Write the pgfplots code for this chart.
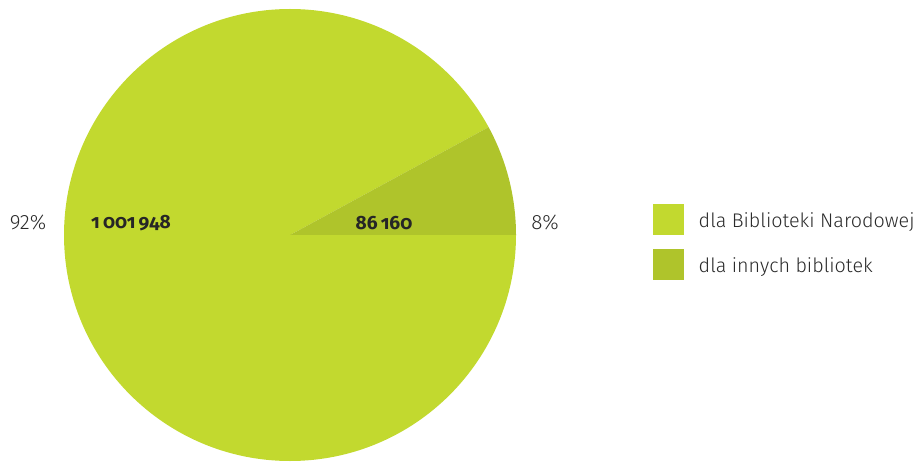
\documentclass[border=0pt]{standalone}
\usepackage{pgfplots}
\pgfplotsset{compat=1.18}
\usepackage{pgfplotstable}
\usepackage{fontspec}
\setmainfont{Fira Sans Light}
\newfontfamily\oldnum{Fira Sans}[Numbers=OldStyle]
\definecolor{bn}{HTML}{C2D92F}
\definecolor{inne}{HTML}{AFC42B}
\definecolor{txt}{HTML}{2A2A2A}

\pgfplotstableread{
label value
BN 1001948
inne 86160
}\piedata

\begin{document}%
\pgfplotstablegetelem{0}{value}\of\piedata \let\va\pgfplotsretval%
\pgfplotstablegetelem{1}{value}\of\piedata \let\vb\pgfplotsretval%
% l3fp, since the values are too large for pgfmath
\edef\angb{\fpeval{round(360*\vb/(\va+\vb),3)}}%
\edef\angbn{\fpeval{\angb-360}}%
\begin{tikzpicture}[font=\fontsize{14.4}{17}\selectfont]
  \useasboundingbox (0,0) rectangle (690pt,345.75pt);
  \begin{axis}[
    at={(217.5pt,169.5pt)}, anchor=origin,
    width=339pt, height=339pt, scale only axis,
    xmin=-1, xmax=1, ymin=-1, ymax=1,
    hide axis, clip=false,
  ]
    \fill[bn]   (axis cs:0,0) -- (axis cs:1,0) arc[start angle=0, end angle=\angbn, radius=169.5pt] -- cycle;
    \fill[inne] (axis cs:0,0) -- (axis cs:1,0) arc[start angle=0, end angle=\angb, radius=169.5pt] -- cycle;
  \end{axis}
  \begin{scope}[x=0.75pt,y=0.75pt]
  % slice labels
  \node[text=txt,font=\fontsize{15.5}{18}\selectfont] at (28,239) {92\%};
  \node[text=txt,font=\fontsize{15.5}{18}\selectfont] at (545,239) {8\%};
  \node[text=black!85,font=\fontsize{14.4}{17}\oldnum\bfseries] at (131,238) {1\,001\,948};
  \node[text=black!85,font=\fontsize{14.4}{17}\oldnum\bfseries] at (384,238) {86\,160};
  % legend
  \fill[bn]   (653,257) rectangle (684,226);
  \fill[inne] (653,212) rectangle (684,181);
  \node[text=txt,anchor=west,font=\fontsize{14.8}{17}\selectfont] at (694,239) {dla Biblioteki Narodowej};
  \node[text=txt,anchor=west,font=\fontsize{14.8}{17}\selectfont] at (694,194) {dla innych bibliotek};
  \end{scope}
\end{tikzpicture}%
\end{document}
